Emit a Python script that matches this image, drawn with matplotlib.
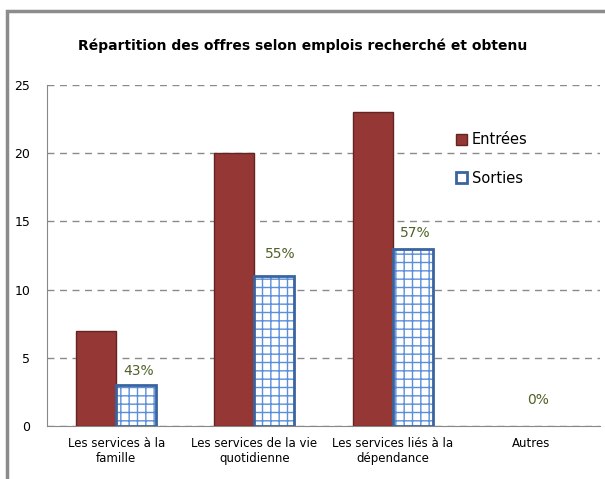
import matplotlib
matplotlib.use('Agg')
import matplotlib.pyplot as plt
from matplotlib.patches import Rectangle, Patch
import numpy as np

categories = ['Les services à la\nfamille', 'Les services de la vie\nquotidienne',
              'Les services liés à la\ndépendance', 'Autres']
entrees = [7, 20, 23, 0]
sorties = [3, 11, 13, 0]
pct_labels = ['43%', '55%', '57%', '0%']
# label offsets (points) from the top of the Sorties bars, as placed in the original
label_dy = [5, 10.5, 6, 13.5]
label_dx = [1.5, 4, 2, -9]

plt.rcParams['font.family'] = ['Century Gothic', 'DejaVu Sans']
plt.rcParams['hatch.linewidth'] = 1.0

fig = plt.figure(figsize=(6.05, 4.79), dpi=100)
ax = fig.add_axes([47 / 605, 53 / 479, 553 / 605, 341 / 479])

# outer chart frame (partially cut off as in the original)
fig.patches.append(Rectangle((7 / 605, -0.1), 1.2, (479 - 11) / 479 + 0.1,
                             transform=fig.transFigure, fill=False,
                             edgecolor='#8c8c8c', linewidth=2.5))

x = np.arange(len(categories))
w = 0.29

ax.bar(x - w / 2, entrees, w, color='#953735', edgecolor='#632523',
       linewidth=[1 if v else 0 for v in entrees], zorder=3)
ax.bar(x + w / 2, sorties, w, color='white', edgecolor='#5b8fd9', hatch='++',
       linewidth=0, zorder=3)
ax.bar(x + w / 2, sorties, w, fill=False, edgecolor='#3a64a0',
       linewidth=[2 if v else 0 for v in sorties], zorder=4)

for xi, v, lab, dx, dy in zip(x, sorties, pct_labels, label_dx, label_dy):
    ax.annotate(lab, (xi + w / 2, v), xytext=(dx, dy), textcoords='offset points',
                ha='center', va='bottom', fontsize=10, color='#4f6228')

ax.set_xlim(-0.5, 3.5)
ax.set_ylim(0, 25)
ax.set_yticks(range(0, 26, 5))
ax.set_xticks(x)
ax.set_xticklabels(categories, fontsize=8.5)
ax.tick_params(axis='x', length=0, pad=8)
ax.tick_params(axis='y', length=0, labelsize=9, pad=12)
ax.yaxis.grid(True, linestyle=(0, (5, 4)), color='#8a8a8a', linewidth=1)
ax.set_axisbelow(True)
for s in ['top', 'right']:
    ax.spines[s].set_visible(False)
for s in ['left', 'bottom']:
    ax.spines[s].set_color('#888888')

handles = [Patch(facecolor='#953735', edgecolor='#632523', label='Entrées'),
           Patch(facecolor='white', edgecolor='#3a64a0', linewidth=2, label='Sorties')]
ax.legend(handles=handles, loc='upper left', bbox_to_anchor=(0.715, 0.9), frameon=False,
          fontsize=10.5, labelspacing=1.6, handlelength=0.8, handleheight=0.8,
          handletextpad=0.3)

fig.text(0.5, 0.905, 'Répartition des offres selon emplois recherché et obtenu',
         ha='center', va='center', fontsize=10, fontweight='bold')

fig.savefig('out.png', dpi=100)
